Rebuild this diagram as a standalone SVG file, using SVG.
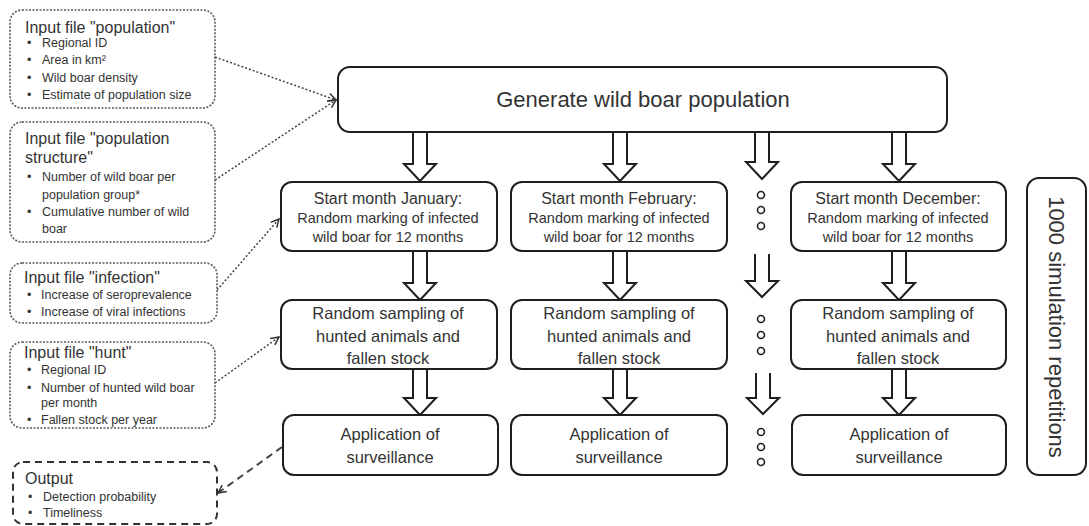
<svg xmlns="http://www.w3.org/2000/svg" width="1089" height="526" viewBox="0 0 1089 526">
<style>
.node{fill:#fff;stroke:#1e1e1e;stroke-width:2}
.inp{fill:#fff;stroke:#5a5a5a;stroke-width:1.6;stroke-dasharray:2 1.5}
.outb{fill:#fff;stroke:#333;stroke-width:2;stroke-dasharray:7 5}
.barrow{fill:#fff;stroke:#1e1e1e;stroke-width:2;stroke-linejoin:miter}
.dots{fill:#fff;stroke:#222;stroke-width:1.6}
.con{fill:none;stroke:#444;stroke-width:1.5;stroke-dasharray:2 2}
.cond{fill:none;stroke:#444;stroke-width:2;stroke-dasharray:7 5}
text{font-family:"Liberation Sans",Arial,sans-serif;fill:#333}
.t16{font-size:16px;text-anchor:middle}
.t14{font-size:14.5px;text-anchor:middle}
.t165{font-size:16.5px;text-anchor:middle}
.big{font-size:22px;text-anchor:middle}
.ttl{font-size:16px}
.bul{font-size:12.5px}
</style>
<defs>
<marker id="ah" markerWidth="10" markerHeight="10" refX="9" refY="5" orient="auto" markerUnits="userSpaceOnUse">
<path d="M1,1 L9,5 L1,9" fill="none" stroke="#333" stroke-width="1.5"/>
</marker>
</defs>

<g id="connectors">
<line class="con" x1="215" y1="57" x2="336" y2="100" marker-end="url(#ah)"/>
<line class="con" x1="215" y1="180" x2="336" y2="100" marker-end="url(#ah)"/>
<line class="con" x1="217" y1="290" x2="279" y2="219" marker-end="url(#ah)"/>
<line class="con" x1="215" y1="383" x2="279" y2="337" marker-end="url(#ah)"/>
<line class="cond" x1="282" y1="447" x2="218" y2="493" marker-end="url(#ah)"/>
<path class="barrow" d="M413,132 V164 H404 L420,181 L436,164 H427 V132"/>
<path class="barrow" d="M613,132 V164 H604 L620,181 L636,164 H627 V132"/>
<path class="barrow" d="M755,132 V162 H746 L762,179 L778,162 H769 V132"/>
<path class="barrow" d="M892,132 V164 H883 L899,181 L915,164 H906 V132"/>
<path class="barrow" d="M413,251 V283 H404 L420,300 L436,283 H427 V251"/>
<path class="barrow" d="M613,251 V283 H604 L620,300 L636,283 H627 V251"/>
<path class="barrow" d="M755,254 V281 H746 L762,297 L778,281 H769 V254"/>
<path class="barrow" d="M892,251 V283 H883 L899,300 L915,283 H906 V251"/>
<path class="barrow" d="M413,369 V398 H404 L420,415 L436,398 H427 V369"/>
<path class="barrow" d="M613,369 V398 H604 L620,415 L636,398 H627 V369"/>
<path class="barrow" d="M756,373 V398 H747 L763,414 L779,398 H770 V373"/>
<path class="barrow" d="M892,369 V398 H883 L899,415 L915,398 H906 V369"/>
</g>

<g id="in-population">
<rect class="inp" x="10" y="10" width="205" height="98" rx="12"/>
<text class="ttl" x="25" y="33">Input file "population"</text>
<text class="bul" x="27" y="47">•</text><text class="bul" x="42" y="47">Regional ID</text>
<text class="bul" x="27" y="64">•</text><text class="bul" x="42" y="64">Area in km²</text>
<text class="bul" x="27" y="82">•</text><text class="bul" x="42" y="82">Wild boar density</text>
<text class="bul" x="27" y="99">•</text><text class="bul" x="42" y="99">Estimate of population size</text>
</g>

<g id="in-structure">
<rect class="inp" x="10" y="122" width="205" height="120" rx="12"/>
<text class="ttl" x="25" y="144">Input file "population</text>
<text class="ttl" x="25" y="163">structure"</text>
<text class="bul" x="27" y="181">•</text><text class="bul" x="42" y="181">Number of wild boar per</text>
<text class="bul" x="42" y="199">population group*</text>
<text class="bul" x="27" y="216">•</text><text class="bul" x="42" y="216">Cumulative number of wild</text>
<text class="bul" x="42" y="233">boar</text>
</g>

<g id="in-infection">
<rect class="inp" x="10" y="263" width="207" height="60" rx="12"/>
<text class="ttl" x="24" y="283">Input file "infection"</text>
<text class="bul" x="27" y="299">•</text><text class="bul" x="41" y="299">Increase of seroprevalence</text>
<text class="bul" x="27" y="316">•</text><text class="bul" x="41" y="316">Increase of viral infections</text>
</g>

<g id="in-hunt">
<rect class="inp" x="10" y="342" width="205" height="86" rx="12"/>
<text class="ttl" x="24" y="358">Input file "hunt"</text>
<text class="bul" x="27" y="374">•</text><text class="bul" x="41" y="374">Regional ID</text>
<text class="bul" x="27" y="392">•</text><text class="bul" x="41" y="392">Number of hunted wild boar</text>
<text class="bul" x="41" y="407">per month</text>
<text class="bul" x="27" y="424">•</text><text class="bul" x="41" y="424">Fallen stock per year</text>
</g>

<g id="output">
<rect class="outb" x="13" y="462" width="204" height="62" rx="10"/>
<text class="ttl" x="25" y="484">Output</text>
<text class="bul" x="28" y="501">•</text><text class="bul" x="43" y="501">Detection probability</text>
<text class="bul" x="28" y="517">•</text><text class="bul" x="43" y="517">Timeliness</text>
</g>

<g id="generate">
<rect class="node" x="338" y="67" width="609" height="65" rx="12"/>
<text class="big" x="643" y="107">Generate wild boar population</text>
</g>

<g id="start-jan">
<rect class="node" x="281" y="182" width="216" height="69" rx="11"/>
<text class="t16" x="388" y="204">Start month January:</text>
<text class="t14" x="388" y="223">Random marking of infected</text>
<text class="t14" x="388" y="242">wild boar for 12 months</text>
</g>
<g id="start-feb">
<rect class="node" x="511" y="182" width="216" height="69" rx="11"/>
<text class="t16" x="619" y="204">Start month February:</text>
<text class="t14" x="619" y="223">Random marking of infected</text>
<text class="t14" x="619" y="242">wild boar for 12 months</text>
</g>
<g id="start-dec">
<rect class="node" x="791" y="182" width="215" height="69" rx="11"/>
<text class="t16" x="898" y="204">Start month December:</text>
<text class="t14" x="898" y="223">Random marking of infected</text>
<text class="t14" x="898" y="242">wild boar for 12 months</text>
</g>

<g id="sample-jan">
<rect class="node" x="281" y="300" width="216" height="69" rx="11"/>
<text class="t165" x="388" y="319">Random sampling of</text>
<text class="t165" x="388" y="342">hunted animals and</text>
<text class="t165" x="388" y="364">fallen stock</text>
</g>
<g id="sample-feb">
<rect class="node" x="511" y="300" width="216" height="69" rx="11"/>
<text class="t165" x="619" y="319">Random sampling of</text>
<text class="t165" x="619" y="342">hunted animals and</text>
<text class="t165" x="619" y="364">fallen stock</text>
</g>
<g id="sample-dec">
<rect class="node" x="791" y="300" width="215" height="69" rx="11"/>
<text class="t165" x="898" y="319">Random sampling of</text>
<text class="t165" x="898" y="342">hunted animals and</text>
<text class="t165" x="898" y="364">fallen stock</text>
</g>

<g id="apply-jan">
<rect class="node" x="283" y="415" width="215" height="60" rx="11"/>
<text class="t165" x="390" y="440">Application of</text>
<text class="t165" x="390" y="463">surveillance</text>
</g>
<g id="apply-feb">
<rect class="node" x="511" y="415" width="216" height="60" rx="11"/>
<text class="t165" x="619" y="440">Application of</text>
<text class="t165" x="619" y="463">surveillance</text>
</g>
<g id="apply-dec">
<rect class="node" x="792" y="415" width="214" height="60" rx="11"/>
<text class="t165" x="899" y="440">Application of</text>
<text class="t165" x="899" y="463">surveillance</text>
</g>

<g id="ellipsis">
<circle class="dots" cx="761" cy="195" r="3.5"/>
<circle class="dots" cx="761" cy="210" r="3.5"/>
<circle class="dots" cx="761" cy="226" r="3.5"/>
<circle class="dots" cx="761" cy="319" r="3.5"/>
<circle class="dots" cx="761" cy="335" r="3.5"/>
<circle class="dots" cx="761" cy="351" r="3.5"/>
<circle class="dots" cx="761" cy="432" r="3.5"/>
<circle class="dots" cx="761" cy="447" r="3.5"/>
<circle class="dots" cx="761" cy="462" r="3.5"/>
</g>

<g id="repetitions">
<rect class="node" x="1027" y="178" width="59" height="297" rx="12"/>
<text class="big" transform="translate(1049,327) rotate(90)" x="0" y="0">1000 simulation repetitions</text>
</g>
</svg>
